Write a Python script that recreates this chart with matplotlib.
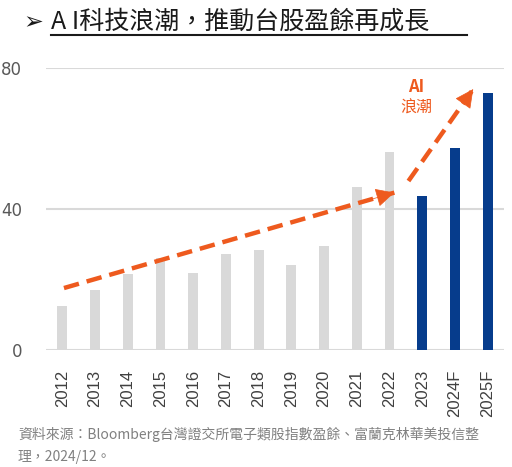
import matplotlib.pyplot as plt
from matplotlib.lines import Line2D

plt.rcParams['font.family'] = ['Noto Sans CJK TC', 'DejaVu Sans']

years = ["2012", "2013", "2014", "2015", "2016", "2017", "2018",
         "2019", "2020", "2021", "2022", "2023", "2024F", "2025F"]
eps = [12.5, 17.0, 21.5, 26.0, 21.8, 27.3, 28.4,
       24.1, 29.5, 46.2, 56.2, 43.7, 57.4, 72.9]
ai_years = ["2023", "2024F", "2025F"]

trend1 = [(0.05, 17.6), (10.15, 44.7)]
trend2 = [(10.58, 48.0), (12.56, 74.1)]

GRAY = "#d9d9d9"
BLUE = "#063c8c"
ORANGE = "#ee5a1e"

fig = plt.figure(figsize=(5.12, 4.67), dpi=100)
ax = fig.add_axes([0.0898, 0.2505, 0.8945, 0.6032])

x = list(range(len(years)))
colors = [BLUE if y in ai_years else GRAY for y in years]
ax.bar(x, eps, width=0.3, color=colors, zorder=2)

ax.set_xlim(-0.5, 13.5)
ax.set_ylim(0, 80)
ax.set_yticks([0, 40, 80])
ax.grid(axis="y", color="#d9d9d9", linewidth=1.5, zorder=0)
ax.set_axisbelow(True)
for s in ax.spines.values():
    s.set_visible(False)
ax.tick_params(axis="y", length=0, pad=17, labelsize=12, labelcolor="#595959")
ax.tick_params(axis="x", length=0, pad=14, labelsize=12, labelcolor="#404040")
ax.set_xticks(x)
ax.set_xticklabels(years, rotation=90, family="Liberation Sans")
for lab in ax.get_yticklabels():
    lab.set_family("DejaVu Sans")


def dashed_arrow(p0, p1):
    ax.plot([p0[0], p1[0]], [p0[1], p1[1]], color=ORANGE, linewidth=3.2,
            linestyle=(0, (3.5, 1.8)), zorder=3, solid_capstyle="butt")
    t = 0.9
    back = (p0[0] + (p1[0] - p0[0]) * t, p0[1] + (p1[1] - p0[1]) * t)
    ax.annotate("", xy=p1, xytext=back,
                arrowprops=dict(arrowstyle="-|>,head_length=1.2,head_width=0.6",
                                color=ORANGE, lw=0.5, shrinkA=0, shrinkB=0),
                zorder=4)


dashed_arrow(*trend1)
dashed_arrow(*trend2)

ax.text(10.82, 74.7, "AI", color=ORANGE, fontsize=12, fontweight="bold",
        ha="center", va="center")
ax.text(10.82, 68.6, "浪潮", color=ORANGE, fontsize=11.5,
        ha="center", va="center")

fig.text(0.045, 0.953, "➢", fontsize=17, color="#1a1a1a", ha="left", va="center",
         family=["DejaVu Sans"])
fig.text(0.100, 0.953, "A I科技浪潮，推動台股盈餘再成長", fontsize=18,
         color="#1a1a1a", ha="left", va="center", fontweight="medium")
fig.add_artist(Line2D([0.100, 0.913], [0.925, 0.925], color="#1a1a1a",
                      linewidth=1.5, transform=fig.transFigure))

fig.text(0.035, 0.069, "資料來源：Bloomberg台灣證交所電子類股指數盈餘、富蘭克林華美投信整",
         fontsize=10, color="#808080", ha="left", va="center", style="italic")
fig.text(0.035, 0.022, "理，2024/12。", fontsize=10, color="#808080",
         ha="left", va="center", style="italic")

fig.savefig("out.png", dpi=100, facecolor="white")
